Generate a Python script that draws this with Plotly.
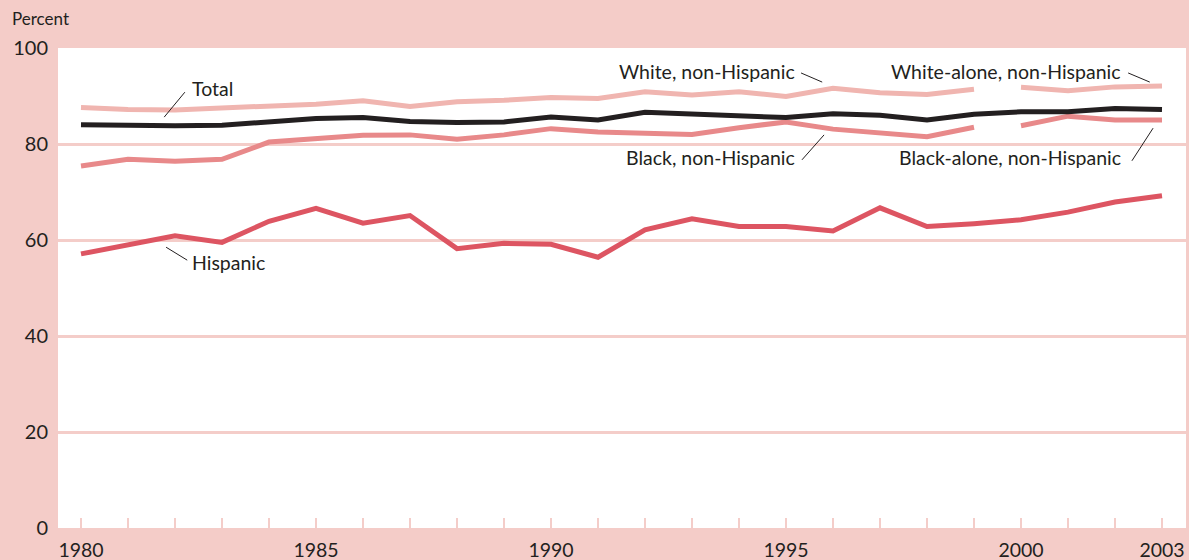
import plotly.graph_objects as go

# Percent of population by race and Hispanic origin, 1980-2003
years = list(range(1980, 2004))
years_nh = list(range(1980, 2000))
years_alone = list(range(2000, 2004))

total = [84.0, 83.8, 83.8, 83.9, 84.7, 85.3, 85.5, 84.7, 84.5, 84.6, 85.6, 85.0,
         86.6, 86.3, 85.9, 85.5, 86.3, 86.0, 85.0, 86.2, 86.7, 86.7, 87.4, 87.2]
hispanic = [57.1, 58.9, 60.9, 59.5, 63.9, 66.6, 63.5, 65.1, 58.2, 59.3, 59.1, 56.4,
            62.1, 64.4, 62.8, 62.8, 61.9, 66.7, 62.8, 63.4, 64.2, 65.8, 67.9, 69.2]
white_nh = [87.6, 87.2, 87.1, 87.5, 87.7, 88.3, 89.0, 87.8, 88.8, 89.1, 89.7, 89.5,
            90.9, 90.2, 90.9, 89.9, 91.6, 90.7, 90.3, 91.4]
black_nh = [75.4, 76.8, 76.4, 76.8, 80.4, 81.0, 81.8, 81.9, 81.0, 81.9, 83.2, 82.5,
            82.2, 82.0, 83.4, 84.6, 83.1, 82.3, 81.5, 83.5]
white_alone = [91.8, 91.1, 91.9, 92.1]
black_alone = [83.8, 85.8, 85.0, 85.0]

x_ticks = [1980, 1985, 1990, 1995, 2000, 2003]
y_ticks = [0, 20, 40, 60, 80, 100]

PAPER = "#f4ccc8"
GRID = "#f4cdc9"
INK = "#231f20"
C_WHITE = "#f0b5b0"
C_BLACK = "#e8898a"
C_HISP = "#dd5562"
C_TOTAL = "#231f20"
FONT = "Lato"

fig = go.Figure()


def add_line(x, y, color):
    fig.add_trace(go.Scatter(x=x, y=y, mode="lines",
                             line=dict(color=color, width=5),
                             hoverinfo="skip", showlegend=False))


add_line(years_nh, white_nh, C_WHITE)
add_line(years_alone, white_alone, C_WHITE)
add_line(years_nh, black_nh, C_BLACK)
add_line(years_alone, black_alone, C_BLACK)
add_line(years, hispanic, C_HISP)
add_line(years, total, C_TOTAL)

# series labels with thin leader lines
labels = [
    ("Total", 1982.32, 91.5, "left", (1981.77, 85.6, 1982.21, 90.8)),
    ("Hispanic", 1982.32, 55.4, "left", (1981.81, 58.5, 1982.26, 55.8)),
    ("White, non-Hispanic", 1995.23, 95.1, "right", (1995.32, 94.8, 1995.77, 92.9)),
    ("Black, non-Hispanic", 1995.23, 77.1, "right", (1995.34, 76.7, 1995.81, 81.9)),
    ("White-alone, non-Hispanic", 2002.17, 95.1, "right", (2002.28, 94.8, 2002.74, 92.9)),
    ("Black-alone, non-Hispanic", 2002.17, 77.1, "right", (2002.36, 76.5, 2002.81, 83.3)),
]
for text, tx, ty, anchor, (x0, y0, x1, y1) in labels:
    fig.add_annotation(x=tx, y=ty, text=text, showarrow=False,
                       xanchor=anchor, yanchor="middle",
                       font=dict(family=FONT, size=19.5, color=INK))
    fig.add_shape(type="line", x0=x0, y0=y0, x1=x1, y1=y1,
                  line=dict(color=INK, width=1))

fig.add_annotation(x=-48 / 1128, y=1.0625, xref="paper", yref="paper",
                   text="Percent", showarrow=False, xanchor="left",
                   yanchor="middle", font=dict(family=FONT, size=17, color=INK))

fig.update_xaxes(range=[1980 - 23 / 47, 2003 + 24 / 47],
                 tickvals=x_ticks, ticktext=[str(v) for v in x_ticks],
                 ticks="inside", ticklen=10, tickwidth=2, tickcolor=GRID,
                 minor=dict(ticks="inside", tick0=1980, dtick=1, ticklen=10,
                            tickwidth=2, tickcolor=GRID),
                 showgrid=False, zeroline=False, showline=False,
                 ticklabelstandoff=8, automargin=False,
                 tickfont=dict(family=FONT, size=19.5, color=INK),
                 fixedrange=True)
fig.update_yaxes(range=[0, 100], tickvals=y_ticks,
                 showgrid=True, gridcolor=GRID, gridwidth=2.5,
                 zeroline=False, showline=False, ticks="",
                 ticklabelstandoff=9, automargin=False,
                 tickfont=dict(family=FONT, size=20, color=INK),
                 fixedrange=True)

fig.update_layout(width=1189, height=560,
                  margin=dict(l=58, r=3, t=48, b=32),
                  paper_bgcolor=PAPER, plot_bgcolor="white",
                  showlegend=False)

fig.write_html("out.html", config={"displayModeBar": False})
